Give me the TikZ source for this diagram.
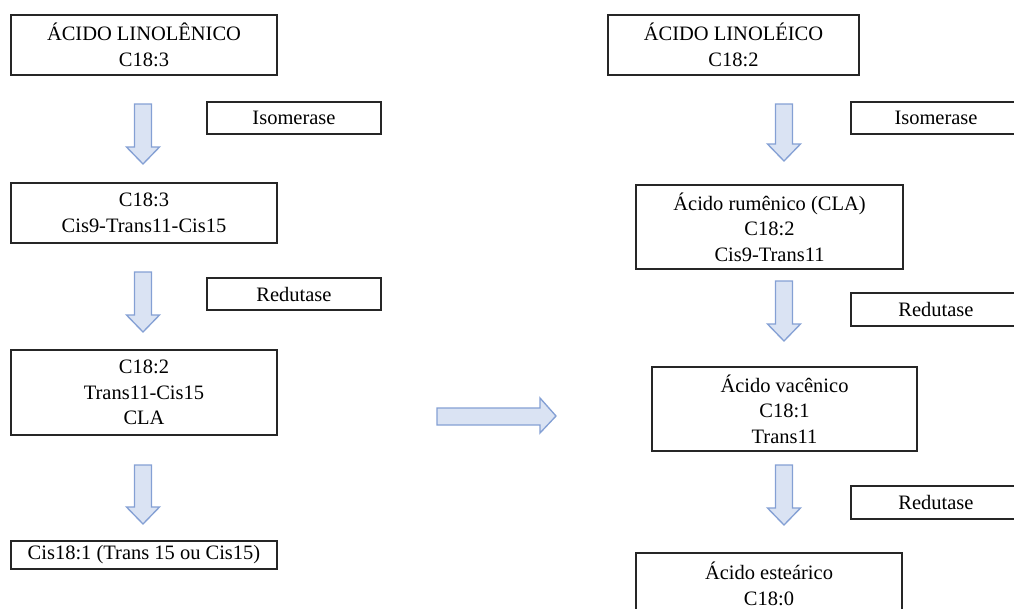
\documentclass[tikz,border=0pt]{standalone}
\usepackage{fontspec}
\setmainfont[Scale=0.96]{Liberation Serif}
\usepackage{tikz}
\definecolor{ArrowFill}{RGB}{218,227,243}
\definecolor{ArrowLine}{RGB}{132,160,212}
\definecolor{BoxLine}{RGB}{38,38,38}

\begin{document}
\begin{tikzpicture}[x=0.75pt,y=-0.75pt,
        box/.style={draw=BoxLine, line width=0.8pt, inner sep=0pt, align=center,
            font=\fontsize{16}{19.2}\selectfont},
        wh/.style 2 args={minimum width=#1*0.75pt, minimum height=#2*0.75pt},
        arrowbody/.style={draw=ArrowLine, fill=ArrowFill, line width=1pt, line join=miter},
        pics/downarrow/.style={code={
            \draw[arrowbody] (-8.5,0) -- (8.5,0) -- (8.5,#1-17) -- (16.5,#1-17)
                -- (0,#1) -- (-16.5,#1-17) -- (-8.5,#1-17) -- cycle;}}]
        \useasboundingbox (0,0) rectangle (1014,608);
        \clip (0,0) rectangle (1014,608);

        % linolenico
        \node[box, wh={266}{60}] (lin1) at (144,45) {ÁCIDO LINOLÊNICO\\C18:3};
        \node[box, wh={266}{60}] (lin2) at (144,213) {C18:3\\Cis9-Trans11-Cis15};
        \node[box, wh={266}{85}] (lin3) at (144,392.5) {C18:2\\Trans11-Cis15\\CLA};
        \node[box, wh={266}{28}] (lin4) at (144,555) {Cis18:1 (Trans 15 ou Cis15)};
        \node[box, wh={174}{32}] (isoL) at (294,118) {Isomerase};
        \node[box, wh={174}{32}] (redL) at (294,294) {Redutase};

        % linoleico
        \node[box, wh={251}{60}] (lio1) at (733.5,45) {ÁCIDO LINOLÉICO\\C18:2};
        \node[box, wh={267}{84}] (lio2) at (769.5,227) {Ácido rumênico (CLA)\\C18:2\\Cis9-Trans11};
        \node[box, wh={265}{84}] (lio3) at (784.5,409) {Ácido vacênico\\C18:1\\Trans11};
        \node[box, wh={266}{62}] (lio4) at (769,584) {Ácido esteárico\\C18:0};
        \node[box, wh={170}{32}] (isoR) at (936,118) {Isomerase};
        \node[box, wh={170}{33}] (redR1) at (936,309.5) {Redutase};
        \node[box, wh={170}{33}] (redR2) at (936,502.5) {Redutase};

        \foreach \y/\len in {104/60, 272/60, 465/59}
            \pic at (143,\y) {downarrow=\len};
        \foreach \y/\len in {104/57, 281/60, 465/60}
            \pic at (784,\y) {downarrow=\len};

        \draw[arrowbody] (437,408) -- (540,408) -- (540,398) -- (556,416)
            -- (540,433) -- (540,425) -- (437,425) -- cycle;
    \end{tikzpicture}
\end{document}
